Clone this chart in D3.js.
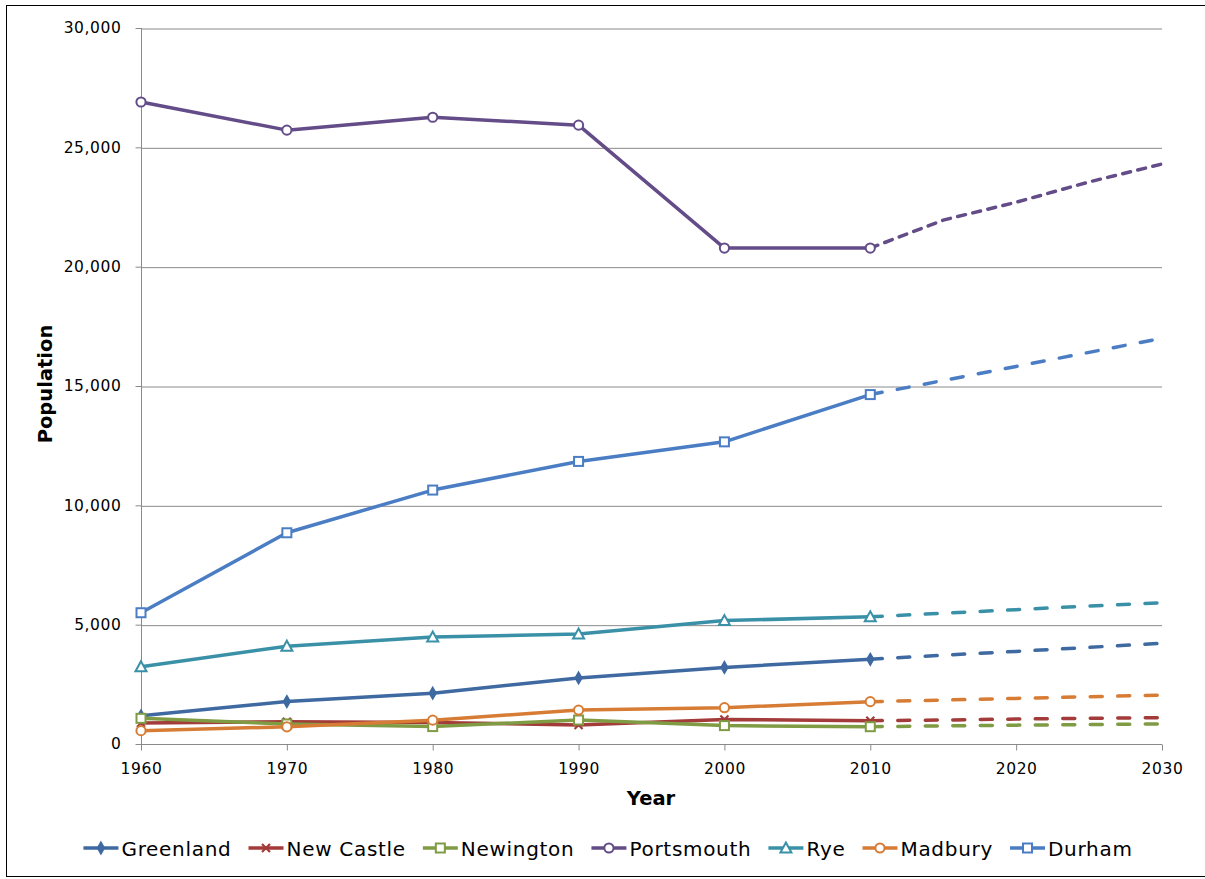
<!DOCTYPE html>
<html>
<head>
<meta charset="utf-8">
<script src="https://cdn.jsdelivr.net/npm/d3@7"></script>
<style>
  html, body { margin: 0; padding: 0; background: #fff; }
  svg { display: block; }
  text { font-family: "DejaVu Sans", Verdana, sans-serif; fill: #000; }
</style>
</head>
<body>
<svg id="chart" width="1205" height="879"></svg>
<script>
// ---- Data ----
const years = [1960, 1970, 1980, 1990, 2000, 2010];
const projYears = [2010, 2015, 2020, 2025, 2030];
const xTicks = [1960, 1970, 1980, 1990, 2000, 2010, 2020, 2030];
const yTicks = [0, 5000, 10000, 15000, 20000, 25000, 30000];
const seriesNames = ["Greenland", "New Castle", "Newington", "Portsmouth", "Rye", "Madbury", "Durham"];

const greenland  = [1180, 1780, 2130, 2770, 3210, 3550];
const newCastle  = [880, 935, 900, 800, 1030, 975];
const newington  = [1075, 840, 730, 1005, 770, 725];
const portsmouth = [26900, 25720, 26260, 25930, 20780, 20780];
const rye        = [3240, 4100, 4480, 4610, 5170, 5330];
const madbury    = [560, 720, 1000, 1420, 1520, 1775];
const durham     = [5500, 8850, 10640, 11840, 12660, 14640];

const greenlandProj  = [3550, 3720, 3880, 4050, 4220];
const newCastleProj  = [975, 1005, 1045, 1075, 1105];
const newingtonProj  = [725, 760, 790, 815, 840];
const portsmouthProj = [20780, 21950, 22700, 23550, 24300];
const ryeProj        = [5330, 5480, 5630, 5780, 5920];
const madburyProj    = [1775, 1840, 1910, 1980, 2050];
const durhamProj     = [14640, 15230, 15820, 16410, 17000];

// ---- Styles ----
const colors  = ["#3f69a1", "#a23b39", "#7f9b43", "#634c88", "#3a91a7", "#d77c35", "#4a7dc3"];
const markers = ["diamond", "x", "square", "circle", "triangle", "circle", "square"];
const dashes  = ["12,15.5", "12,15.5", "12,15.5", "8,7.5", "12,15.5", "12,15.5", "12,15.5"];

const actual = [greenland, newCastle, newington, portsmouth, rye, madbury, durham];
const proj   = [greenlandProj, newCastleProj, newingtonProj, portsmouthProj, ryeProj, madburyProj, durhamProj];

const series = seriesNames.map((name, i) => ({
  name, color: colors[i], marker: markers[i], dash: dashes[i],
  values: years.map((yr, j) => ({ year: yr, value: actual[i][j] })),
  proj: projYears.map((yr, j) => ({ year: yr, value: proj[i][j] }))
}));

// ---- Layout ----
const svg = d3.select("#chart");
const pLeft = 141, pRight = 1162, pTop = 28, pBottom = 744;
const x = d3.scaleLinear().domain([1960, 2030]).range([pLeft, pRight]);
const y = d3.scaleLinear().domain([0, 30000]).range([pBottom, pTop]);

// outer border
svg.append("rect")
  .attr("x", 6.5).attr("y", 5.5).attr("width", 1210).attr("height", 871)
  .attr("fill", "none").attr("stroke", "#000").attr("stroke-width", 1);

// gridlines
const grid = svg.append("g").attr("transform", `translate(${pLeft},0.5)`)
  .call(d3.axisLeft(y).tickValues(yTicks.filter(d => d > 0)).tickSize(-(pRight - pLeft)).tickFormat(""));
grid.select(".domain").remove();
grid.selectAll("line").attr("stroke", "#8a8a8a").attr("stroke-width", 1);

// y axis
const yAxis = svg.append("g").attr("transform", `translate(${pLeft + 0.5},0)`)
  .call(d3.axisLeft(y).tickValues(yTicks).tickSize(6).tickPadding(14).tickFormat(d3.format(",")));
yAxis.select(".domain").attr("stroke", "#8a8a8a").attr("d", `M0,${pTop}V${pBottom}`);
yAxis.selectAll("line").attr("stroke", "#8a8a8a");
yAxis.selectAll("text").style("font-size", "15.5px").style("letter-spacing", "0.6px")
  .style("font-family", '"DejaVu Sans", sans-serif').attr("fill", "#000");

// x axis
const xAxis = svg.append("g").attr("transform", `translate(0,${pBottom + 0.5})`)
  .call(d3.axisBottom(x).tickValues(xTicks).tickSize(6).tickPadding(12).tickFormat(d3.format("d")));
xAxis.select(".domain").attr("stroke", "#8a8a8a").attr("d", `M${pLeft},0H${pRight}`);
xAxis.selectAll("line").attr("stroke", "#8a8a8a");
xAxis.selectAll("text").style("font-size", "15.5px").style("letter-spacing", "0.6px")
  .style("font-family", '"DejaVu Sans", sans-serif').attr("fill", "#000");

// axis titles
svg.append("text").attr("x", 651).attr("y", 805).attr("text-anchor", "middle")
  .style("font-size", "19.5px").style("font-weight", "bold").text("Year");
svg.append("text").attr("transform", "translate(52,384) rotate(-90)").attr("text-anchor", "middle")
  .style("font-size", "19.5px").style("font-weight", "bold").text("Population");

// lines
const line = d3.line().x(d => x(d.year)).y(d => y(d.value));

function drawMarker(g, type, color, cx, cy) {
  if (type === "diamond") {
    g.append("path").attr("d", d3.symbol(d3.symbolDiamond, 40)())
      .attr("transform", `translate(${cx},${cy})`)
      .attr("fill", color).attr("stroke", color).attr("stroke-width", 1.5);
  } else if (type === "x") {
    g.append("path").attr("d", "M-4,-4L4,4M-4,4L4,-4")
      .attr("transform", `translate(${cx},${cy})`)
      .attr("fill", "none").attr("stroke", color).attr("stroke-width", 2.2);
  } else if (type === "square") {
    g.append("rect").attr("x", cx - 4.5).attr("y", cy - 4.5).attr("width", 9).attr("height", 9)
      .attr("fill", "#fff").attr("stroke", color).attr("stroke-width", 2);
  } else if (type === "circle") {
    g.append("circle").attr("cx", cx).attr("cy", cy).attr("r", 4.6)
      .attr("fill", "#fff").attr("stroke", color).attr("stroke-width", 2);
  } else if (type === "triangle") {
    g.append("path").attr("d", "M0,-5.5L5.5,4.5L-5.5,4.5Z")
      .attr("transform", `translate(${cx},${cy})`)
      .attr("fill", "#fff").attr("stroke", color).attr("stroke-width", 2);
  }
}

const plot = svg.append("g");
series.forEach(s => {
  const g = plot.append("g");
  g.append("path").datum(s.proj).attr("d", line)
    .attr("fill", "none").attr("stroke", s.color).attr("stroke-width", 3.5)
    .attr("stroke-linecap", "round").attr("stroke-dasharray", s.dash);
  g.append("path").datum(s.values).attr("d", line)
    .attr("fill", "none").attr("stroke", s.color).attr("stroke-width", 3.5)
    .attr("stroke-linejoin", "round");
  s.values.forEach(d => drawMarker(g, s.marker, s.color, x(d.year), y(d.value)));
});

// legend
const legend = svg.append("g");
const sampleLen = 35, textGap = 3, itemGap = 17, legendY = 848;
const items = [];
series.forEach(s => {
  const g = legend.append("g");
  g.append("line").attr("x1", 0).attr("x2", sampleLen).attr("y1", 0).attr("y2", 0)
    .attr("stroke", s.color).attr("stroke-width", 3.5);
  drawMarker(g, s.marker, s.color, sampleLen / 2, 0);
  const t = g.append("text").attr("x", sampleLen + textGap).attr("y", 8)
    .style("font-size", "20px").style("letter-spacing", "0.7px").text(s.name);
  const w = sampleLen + textGap + t.node().getComputedTextLength();
  items.push({ g, w });
});
const totalW = d3.sum(items, d => d.w) + itemGap * (items.length - 1);
let lx = 608 - totalW / 2;
items.forEach(it => {
  it.g.attr("transform", `translate(${lx},${legendY})`);
  lx += it.w + itemGap;
});
</script>
</body>
</html>
